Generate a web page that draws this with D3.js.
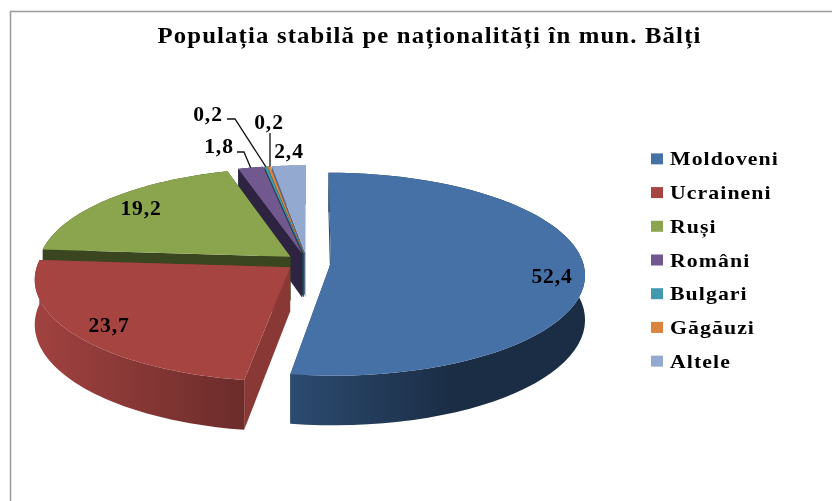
<!DOCTYPE html>
<html>
<head>
<meta charset="utf-8">
<script src="https://cdnjs.cloudflare.com/ajax/libs/d3/7.8.5/d3.min.js"></script>
<style>
html,body{margin:0;padding:0;background:#fff}
svg{display:block}
text{font-family:"Liberation Serif","Times New Roman",serif;font-weight:bold;fill:#000;filter:url(#soft)}
</style>
</head>
<body>
<svg id="c" width="832" height="501"></svg>
<script>
const titleText = "Populația stabilă pe naționalități în mun. Bălți";
const categories = ["Moldoveni","Ucraineni","Ruși","Români","Bulgari","Găgăuzi","Altele"];
const values = [52.4,23.7,19.2,1.8,0.2,0.2,2.4];
const valueLabels = ["52,4","23,7","19,2","1,8","0,2","0,2","2,4"];
const colors = ["#4571a7","#a64442","#8aa54e","#71588f","#4198af","#db843d","#93a9cf"];
const wallDark = ["#1b2d45","#6b2c2a","#3a4620","#2e2340","#1d4350","#8a5020","#55698c"];
const wallLight = ["#2c4b70","#a14240","#3a4620","#2e2340","#1d4350","#8a5020","#55698c"];
const cutWall = ["#2c4b70","#8a3836","#3a4620","#2e2340","#1d4350","#8a5020","#55698c"];
const explodeBy = [0.095,0.085,0.085,0.085,0.085,0.085,0.085];
// label anchors (middle x, baseline y)
const labelX = [552,109,141,219,208,269,289];
const labelY = [283,332,215,153,121,129,158];
// leader elbows for the small slices (index -> label-side points)
const leaders = {3:[[237,152],[244,152]],4:[[227,119],[235,119]],5:[[270,133],[270,133]]};

const svg = d3.select("#c");
const cx=307, cy=262, R=252, A=100, k=0.113, H=44;

const defs=svg.append("defs");
defs.append("filter").attr("id","soft").attr("x","-5%").attr("y","-20%").attr("width","110%").attr("height","140%")
  .append("feGaussianBlur").attr("stdDeviation",0.35);

// frame
svg.append("path").attr("d",d3.line()([[10.5,501],[10.5,11.5],[832,11.5]]))
   .attr("fill","none").attr("stroke","#9a9a9a").attr("stroke-width",1.5);

const pie = d3.pie().sort(null).value(d=>d);
const arcs = pie(values);
const sc = Y=>1/(1+k*Y);
function proj(dirX,dirY,drop){
  const s=sc(dirY);
  return [cx+R*dirX*s, cy-A*dirY*s+(drop?H*s:0)];
}
function pt(a,ang,r,drop){
  const mid=(a.startAngle+a.endAngle)/2, e=explodeBy[a.index];
  const X=r*Math.sin(ang)+e*Math.sin(mid);
  const Y=r*Math.cos(ang)+e*Math.cos(mid);
  return proj(X,Y,drop);
}
const line=d3.line();
[0,1].forEach(i=>{
  const x0=i===0?290:33,x1=i===0?586:245;
  const g=defs.append("linearGradient").attr("id","w"+i).attr("gradientUnits","userSpaceOnUse")
    .attr("x1",x0).attr("x2",x1).attr("y1",0).attr("y2",0);
  if(i===0){
    g.append("stop").attr("offset",0).attr("stop-color",wallLight[0]);
    g.append("stop").attr("offset",0.55).attr("stop-color",wallDark[0]);
    g.append("stop").attr("offset",1).attr("stop-color",wallDark[0]);
  } else {
    g.append("stop").attr("offset",0).attr("stop-color",wallLight[1]);
    g.append("stop").attr("offset",1).attr("stop-color",wallDark[1]);
  }
});
const order=d3.range(arcs.length).reverse();
order.forEach(i=>{
  const a=arcs[i];
  const angs=d3.range(0,61).map(t=>a.startAngle+(a.endAngle-a.startAngle)*t/60);
  const g=svg.append("g");
  [a.startAngle,a.endAngle].forEach(ang=>{
    const p=[pt(a,ang,0,false),pt(a,ang,1,false),pt(a,ang,1,true),pt(a,ang,0,true)];
    g.append("path").attr("d",line(p)+"Z").attr("fill",cutWall[i]);
  });
  const top=angs.map(t=>pt(a,t,1,false));
  const bot=angs.map(t=>pt(a,t,1,true)).reverse();
  g.append("path").attr("d",line(top.concat(bot))+"Z").attr("fill",i<2?`url(#w${i})`:wallDark[i]);
  g.append("path").attr("d",line([pt(a,0,0,false)].concat(top))+"Z").attr("fill",colors[i]);
});

// leaders
Object.keys(leaders).forEach(key=>{
  const i=+key,a=arcs[i],mid=(a.startAngle+a.endAngle)/2,end=pt(a,mid,1,false);
  const pts=leaders[key].concat([i===5?[leaders[key][0][0],end[1]]:end]);
  svg.append("path").attr("d",line(pts))
    .attr("fill","none").attr("stroke","#111").attr("stroke-width",1.3);
});

function put(t,x,y,size,sx,spacing,anchor){
  svg.append("text").attr("transform",`translate(${x},${y}) scale(${sx},1)`)
    .attr("text-anchor",anchor).attr("font-size",size).attr("letter-spacing",spacing).text(t);
}
valueLabels.forEach((t,i)=>put(t,labelX[i],labelY[i],20,1.08,0.8,"middle"));
put(titleText,429.5,43,22.5,1.1,1.05,"middle");

// legend
const legendY=d3.scaleBand().domain(categories).range([143,379]);
categories.forEach((c,i)=>{
  const y=legendY(c)+legendY.bandwidth()/2;
  svg.append("rect").attr("x",651).attr("y",y-6.5).attr("width",12).attr("height",11).attr("fill",colors[i]);
  put(c,670,y+5.5,18.5,1.18,0.9,"start");
});
</script>
</body>
</html>
